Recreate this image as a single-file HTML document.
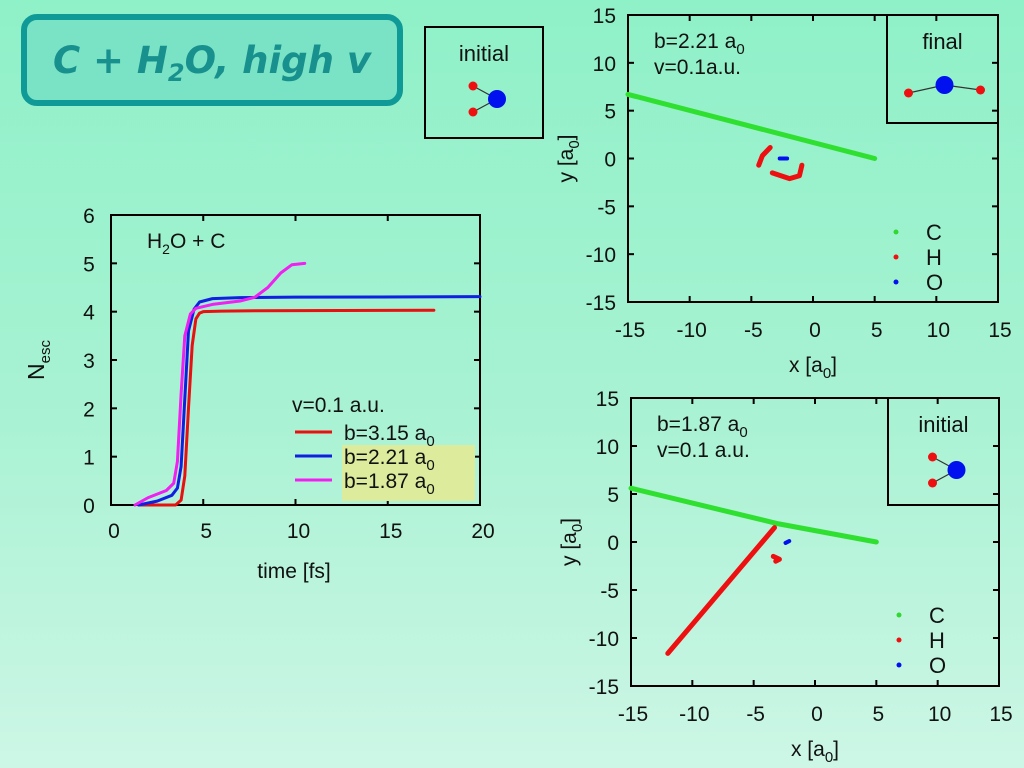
<!DOCTYPE html>
<html><head><meta charset="utf-8">
<style>
html,body{margin:0;padding:0;}
body{width:1024px;height:768px;overflow:hidden;background:linear-gradient(180deg,#8ff1c8 0%,#a6f2d2 50%,#cdf6e6 100%);font-family:"Liberation Sans",sans-serif;}
svg{position:absolute;left:0;top:0;}
text{font-family:"Liberation Sans",sans-serif;fill:#111;}
</style></head><body>
<svg id="s" width="1024" height="768" xmlns="http://www.w3.org/2000/svg">
<rect x="24" y="17" width="376" height="86" rx="13" fill="#7ae3c5" stroke="#0f9a98" stroke-width="6"/>
<text x="212" y="73" text-anchor="middle" style="font-family:'DejaVu Sans',sans-serif;font-weight:bold;font-style:italic;font-size:37px;fill:#17908e">C + H<tspan font-size="24" dy="8">2</tspan><tspan dy="-8">O, high v</tspan></text>
<g id="g"></g>
</svg>
<script>
// ---- left chart data ----
const tRed=[1.5,3.5,3.8,4.0,4.2,4.4,4.6,4.8,5.0,6,8,17.5];
const nRed=[0,0,0.1,0.6,2.0,3.3,3.85,3.97,4.0,4.01,4.02,4.03];
const tBlue=[1.5,2.5,3.3,3.6,3.8,4.0,4.2,4.5,4.8,5.5,7,10,20];
const nBlue=[0,0.08,0.2,0.35,0.8,2.2,3.6,4.05,4.2,4.27,4.29,4.3,4.31];
const tMag=[1.3,2,3,3.4,3.6,3.8,4.0,4.3,4.6,5.5,7,7.8,8.5,9.2,9.8,10.5];
const nMag=[0,0.15,0.3,0.45,0.9,2.3,3.5,3.95,4.07,4.15,4.22,4.3,4.5,4.8,4.97,5.0];
const xTicks=[0,5,10,15,20];
const yTicks=[0,1,2,3,4,5,6];
// ---- trajectory data (b=2.21) ----
const cTopX=[-15,5], cTopY=[6.7,0];
const h1TopX=[-3.47,-4.1,-4.4], h1TopY=[1.15,0.3,-0.7];
const h2TopX=[-3.3,-1.9,-1.1,-0.9], h2TopY=[-1.5,-2.1,-1.8,-0.7];
const oTopX=[-2.7,-2.1], oTopY=[0,0];
// ---- trajectory data (b=1.87) ----
const cBotX=[-15,-3,5], cBotY=[5.6,1.9,0];
const hBotX=[-12,-3.3], hBotY=[-11.6,1.5];
const h2BotX=[-3.4,-2.9,-3.2], h2BotY=[-1.5,-1.8,-2.0];
const oBotX=[-2.4,-2.1], oBotY=[-0.1,0.1];
const trajTicks=[-15,-10,-5,0,5,10,15];

const NS='http://www.w3.org/2000/svg';
const G=document.getElementById('g');
function mk(tag,at,parent){const e=document.createElementNS(NS,tag);for(const k in at)e.setAttribute(k,at[k]);(parent||G).appendChild(e);return e;}
function line(x1,y1,x2,y2,c,w){return mk('line',{x1,y1,x2,y2,stroke:c,'stroke-width':w});}
function txt(x,y,s,size,anchor){const e=mk('text',{x,y,'font-size':size,'text-anchor':anchor||'middle'});e.textContent=s;return e;}

// left chart
const L={x0:111,x1:480,y0:505,y1:215};
const lx=t=>L.x0+(t-0)/20*(L.x1-L.x0);
const ly=n=>L.y0-(n/6)*(L.y0-L.y1);
let r=mk('rect',{x:L.x0,y:L.y1,width:L.x1-L.x0,height:L.y0-L.y1,fill:'none',stroke:'#000','stroke-width':2});


xTicks.forEach(v=>{const X=lx(v);line(X,L.y0,X,L.y0-6,'#000',2);line(X,L.y1,X,L.y1+6,'#000',2);
 const t=txt(X+3,538,String(v),21);});
yTicks.forEach(v=>{const Y=ly(v);line(L.x0,Y,L.x0+6,Y,'#000',2);line(L.x1,Y,L.x1-6,Y,'#000',2);
 const t=txt(89,Y+8,String(v),21);});
let xt=txt(294,578,'time [fs]',21);
let yt=mk('text',{x:0,y:0,'font-size':23,'text-anchor':'middle',transform:'translate(44,360) rotate(-90)'});
yt.innerHTML='N<tspan font-size="15" dy="6">esc</tspan>';

let ann=mk('text',{x:147,y:248,'font-size':21});ann.innerHTML='H<tspan font-size="14" dy="6">2</tspan><tspan dy="-6">O + C</tspan>';

function series(xs,ys,fx,fy,c,w,name){const p=mk('polyline',{points:xs.map((v,i)=>fx(v)+','+fy(ys[i])).join(' '),fill:'none',stroke:c,'stroke-width':w,'stroke-linejoin':'round','stroke-linecap':'round'});
 return p;}
series(tRed,nRed,lx,ly,'#e81010',3,'series-b315');
series(tBlue,nBlue,lx,ly,'#1020e0',3,'series-b221');
series(tMag,nMag,lx,ly,'#f020f0',3,'series-b187');
// legend
let hl=mk('rect',{x:342,y:445,width:133,height:56,fill:'#dcec9c'});
let lv=txt(292,412,'v=0.1 a.u.',21,'start');
[['#e81010','3.15',438],['#1020e0','2.21',462],['#f020f0','1.87',486]].forEach(([c,b,y])=>{
 const l=line(295,y-6,332,y-6,c,3);
 const t=mk('text',{x:344,y:y+2,'font-size':21,fill:'#222'});t.innerHTML='b='+b+' a<tspan font-size="15" dy="6">0</tspan>';
 });

// molecule insets
function mol(x,y,w,h,label,final,name){const g=mk('g',{});
 mk('rect',{x,y,width:w,height:h,fill:'none',stroke:'#000','stroke-width':2},g);
 const t=mk('text',{x:x+w/2,y:y+34,'font-size':22,'text-anchor':'middle'},g);t.textContent=label;
 if(final){const cx=x+w/2+2,cy=y+70;mk('polyline',{points:(cx-36)+','+(cy+8)+' '+cx+','+cy+' '+(cx+36)+','+(cy+5),fill:'none',stroke:'#333','stroke-width':1.2},g);
  mk('circle',{cx,cy,r:9,fill:'#0010ee'},g);mk('circle',{cx:cx-36,cy:cy+8,r:4.5,fill:'#ee1010'},g);mk('circle',{cx:cx+36,cy:cy+5,r:4.5,fill:'#ee1010'},g);}
 else{const cx=x+w/2+13,cy=y+72;mk('polyline',{points:(cx-24)+','+(cy-13)+' '+cx+','+cy+' '+(cx-24)+','+(cy+13),fill:'none',stroke:'#333','stroke-width':1.2},g);
  mk('circle',{cx,cy,r:9,fill:'#0010ee'},g);mk('circle',{cx:cx-24,cy:cy-13,r:4.5,fill:'#ee1010'},g);mk('circle',{cx:cx-24,cy:cy+13,r:4.5,fill:'#ee1010'},g);}}
mol(425,27,118,111,'initial',false,'initial-inset-top-left');

// trajectory plots
function traj(B,lab1,lab2,data,final,pfx){
 const fx=v=>B.x0+(v+15)/30*(B.x1-B.x0), fy=v=>B.y0-(v+15)/30*(B.y0-B.y1);
 const fr=mk('rect',{x:B.x0,y:B.y1,width:B.x1-B.x0,height:B.y0-B.y1,fill:'none',stroke:'#000','stroke-width':2});
 
 trajTicks.forEach(v=>{const X=fx(v),Y=fy(v);line(X,B.y0,X,B.y0-6,'#000',2);line(X,B.y1,X,B.y1+6,'#000',2);line(B.x0,Y,B.x0+6,Y,'#000',2);line(B.x1,Y,B.x1-6,Y,'#000',2);
  const a=txt(X+2,B.y0+35,String(v),21);
  const b=txt(B.x0-12,Y+8,String(v),21,'end');});
 const xl=mk('text',{x:(B.x0+B.x1)/2,y:B.y0+70,'font-size':21,'text-anchor':'middle'});xl.innerHTML='x [a<tspan font-size="15" dy="6">0</tspan><tspan dy="-6">]</tspan>';
 
 const yl=mk('text',{x:0,y:0,'font-size':21,'text-anchor':'middle',transform:'translate('+(B.x0-55)+','+((B.y0+B.y1)/2)+') rotate(-90)'});
 yl.innerHTML='y [a<tspan font-size="15" dy="6">0</tspan><tspan dy="-6">]</tspan>';
 
 const t1=mk('text',{x:B.x0+26,y:B.y1+33,'font-size':21});t1.innerHTML=lab1+' a<tspan font-size="15" dy="6">0</tspan>';
 
 const t2=txt(B.x0+26,B.y1+59,lab2,21,'start');
 data.forEach(([xs,ys,c,w,n])=>series(xs,ys,fx,fy,c,w,n));
 mol(B.x1-111,B.y1,111,final?108:107,final?'final':'initial',final,pfx+'-inset');
 [['#30d830','C',0],['#ee1010','H',25],['#0010ee','O',50]].forEach(([c,s,d])=>{
  const dot=mk('circle',{cx:B.x0+268,cy:B.y1+217+d,r:2.5,fill:c});
  const t=txt(B.x0+298,B.y1+225+d,s,22,'start');});
}
traj({x0:628,x1:998,y0:302,y1:15},'b=2.21','v=0.1a.u.',[
 [cTopX,cTopY,'#30e030',5,'carbon-trajectory'],[h1TopX,h1TopY,'#ee1010',5,'hydrogen-trajectory-1'],
 [h2TopX,h2TopY,'#ee1010',5,'hydrogen-trajectory-2'],[oTopX,oTopY,'#0010ee',4,'oxygen-trajectory']],true,'traj-top');
traj({x0:631,x1:999,y0:686,y1:398},'b=1.87','v=0.1 a.u.',[
 [cBotX,cBotY,'#30e030',5,'carbon-trajectory'],[hBotX,hBotY,'#ee1010',5,'hydrogen-trajectory-1'],
 [h2BotX,h2BotY,'#ee1010',5,'hydrogen-trajectory-2'],[oBotX,oBotY,'#0010ee',4,'oxygen-trajectory']],false,'traj-bottom');
</script>
</body></html>
